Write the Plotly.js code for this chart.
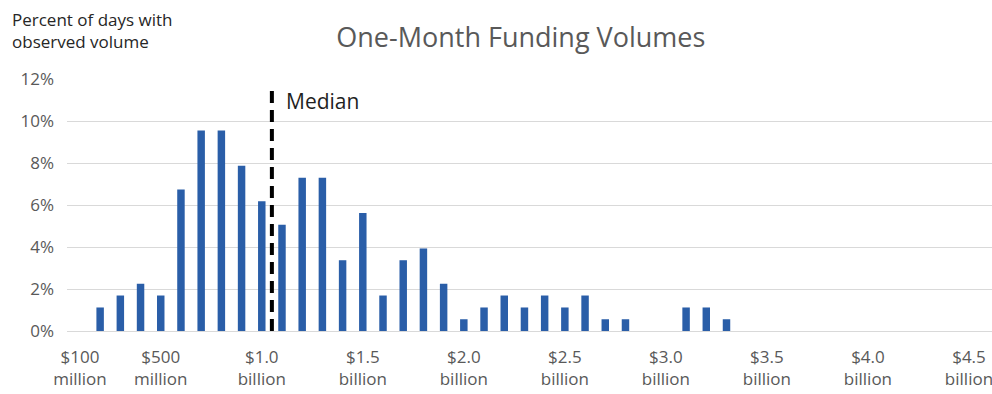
<!DOCTYPE html>
<html>
<head>
<meta charset="utf-8">
<script src="https://cdn.plot.ly/plotly-3.0.1.min.js"></script>
<style>html,body{margin:0;padding:0;background:#fff;}#chart{width:992px;height:394px;}</style>
</head>
<body>
<div id="chart"></div>
<script>
// Bin (upper bound, $ millions)
var bins = [100,200,300,400,500,600,700,800,900,1000,
            1100,1200,1300,1400,1500,1600,1700,1800,1900,2000,
            2100,2200,2300,2400,2500,2600,2700,2800,2900,3000,
            3100,3200,3300,3400,3500,3600,3700,3800,3900,4000,
            4100,4200,4300,4400,4500];
// Percent of days with observed volume
var pct = [0,1.12,1.69,2.25,1.69,6.74,9.55,9.55,7.87,6.18,
           5.06,7.30,7.30,3.37,5.62,1.69,3.37,3.93,2.25,0.56,
           1.12,1.69,1.12,1.69,1.12,1.69,0.56,0.56,0,0,
           1.12,1.12,0.56,0,0,0,0,0,0,0,
           0,0,0,0,0];
var tickVals = [100,500,1000,1500,2000,2500,3000,3500,4000,4500];
var tickText = ['$100<br>million','$500<br>million','$1.0<br>billion','$1.5<br>billion','$2.0<br>billion',
                '$2.5<br>billion','$3.0<br>billion','$3.5<br>billion','$4.0<br>billion','$4.5<br>billion'];
var medianX = 1050;
var medianTop = 11.7;

var font = '"Open Sans", "Noto Sans", sans-serif';

Plotly.newPlot('chart', [{
  type: 'bar',
  x: bins,
  y: pct,
  width: 37,
  marker: {color: '#2a5ea8'},
  hoverinfo: 'x+y'
}], {
  width: 992, height: 394,
  margin: {l: 67, r: 0, t: 79, b: 63},
  paper_bgcolor: '#fff', plot_bgcolor: '#fff',
  showlegend: false,
  font: {family: font, color: '#595959', size: 14},
  title: {
    text: 'One-Month Funding Volumes',
    font: {family: font, size: 27, color: '#595959'},
    xref: 'container', x: 0.525, xanchor: 'center',
    yref: 'container', y: 1 - 38/394, yanchor: 'middle'
  },
  xaxis: {
    range: [36, 4614],
    tickmode: 'array', tickvals: tickVals, ticktext: tickText,
    showgrid: false, zeroline: false, showline: false, ticks: '',
    ticklabelstandoff: 14,
    ticklabeloverflow: 'allow',
    tickfont: {family: font, size: 17, color: '#595959'}
  },
  yaxis: {
    range: [0, 12], dtick: 2, tick0: 0, ticksuffix: '%',
    showgrid: true, gridcolor: '#d9d9d9', gridwidth: 1,
    zeroline: true, zerolinecolor: '#d9d9d9', zerolinewidth: 1,
    showline: false, ticks: '',
    ticklabelstandoff: 12,
    tickfont: {family: font, size: 17, color: '#595959'}
  },
  shapes: [{
    type: 'line', xref: 'x', yref: 'y',
    x0: medianX, x1: medianX, y0: 0, y1: medianTop,
    line: {color: '#000', width: 4, dash: '12px,7px'}
  }],
  annotations: [{
    text: 'Median', xref: 'x', yref: 'y', x: 1110, y: 10.95,
    xanchor: 'left', yanchor: 'middle', showarrow: false,
    font: {family: font, size: 21, color: '#1f1f1f'}
  }, {
    text: 'Percent of days with<br>observed volume', xref: 'paper', yref: 'paper',
    x: -0.062, y: 1 + 73/252, xanchor: 'left', yanchor: 'top', align: 'left',
    showarrow: false,
    font: {family: font, size: 17, color: '#262626'}
  }]
}, {displayModeBar: false, staticPlot: true});
</script>
</body>
</html>
